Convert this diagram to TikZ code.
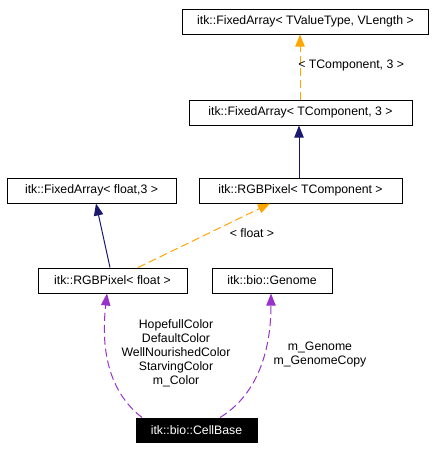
\documentclass[tikz,border=0pt]{standalone}
\usepackage{fontspec}
\setmainfont{Liberation Sans}
\usetikzlibrary{arrows.meta}
\definecolor{inh}{RGB}{25,25,112}
\definecolor{tmpl}{RGB}{255,165,0}
\definecolor{usage}{RGB}{153,50,204}
\begin{document}
\begin{tikzpicture}[x=0.75pt,y=-0.75pt,
  box/.style={draw=black,line width=0.75pt,fill=white,inner sep=0pt,font=\fontsize{9.2}{10}\selectfont},
  inhedge/.style={draw=inh,line width=0.75pt,-{Triangle[length=9pt,width=7pt,fill=inh]}},
  tmpledge/.style={draw=tmpl,line width=0.75pt,dash pattern=on 6pt off 3pt,-{Triangle[length=9pt,width=7pt,fill=tmpl]}},
  useedge/.style={draw=usage,line width=0.75pt,dash pattern=on 6pt off 3pt,-{Triangle[length=9pt,width=7pt,fill=usage]}},
  lbl/.style={font=\fontsize{9.2}{10.5}\selectfont,inner sep=0pt,align=center}]
\useasboundingbox (0,0) rectangle (436,450);
\node[box,minimum width=246*0.75pt,minimum height=25*0.75pt] (fatv) at (305.5,21.5) {itk::FixedArray< TValueType, VLength >};
\node[box,minimum width=223*0.75pt,minimum height=25*0.75pt] (fatc) at (300.5,112.5) {itk::FixedArray< TComponent, 3 >};
\node[box,minimum width=169*0.75pt,minimum height=25*0.75pt] (faf) at (91.5,190.5) {itk::FixedArray< float,3 >};
\node[box,minimum width=203*0.75pt,minimum height=25*0.75pt] (rgbt) at (300.5,190.5) {itk::RGBPixel< TComponent >};
\node[box,minimum width=149*0.75pt,minimum height=25*0.75pt] (rgbf) at (112.5,280.5) {itk::RGBPixel< float >};
\node[box,minimum width=120*0.75pt,minimum height=25*0.75pt] (gen) at (272,280.5) {itk::bio::Genome};
\node[box,fill=black,text=white,minimum width=121*0.75pt,minimum height=24*0.75pt] (cell) at (196.5,430) {itk::bio::CellBase};
% edges
\draw[tmpledge] (fatc.north -| 300,0) -- (fatv.south -| 300,0);
\node[lbl,anchor=west] (l1) at (298,65) {< TComponent, 3 >};
\draw[inhedge] (rgbt.north -| 299,0) -- (fatc.south -| 299,0);
\draw[inhedge] (rgbf.north -| 110,0) -- (faf.south -| 96,0);
\draw[tmpledge] (rgbf.north -| 138,0) -- (rgbt.south -| 270,0);
\node[lbl] (l2) at (252,233) {< float >};
\draw[useedge] (cell.north -| 142,0) .. controls (100,385) and (103,330) .. (rgbf.south -| 107,0);
\node[lbl] (l3) at (176,353) {HopefullColor\\DefaultColor\\WellNourishedColor\\StarvingColor\\m\_Color};
\draw[useedge] (cell.north -| 220,0) .. controls (265,390) and (271,335) .. (gen.south -| 271,0);
\node[lbl] (l4) at (320,354) {m\_Genome\\m\_GenomeCopy};
\end{tikzpicture}
\end{document}
